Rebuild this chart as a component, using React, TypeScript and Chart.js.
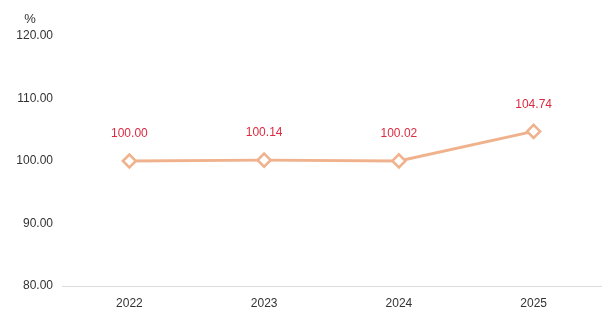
import React, { useEffect, useRef } from "react";
import { Chart, registerables } from "chart.js";

Chart.register(...registerables);

const categories = ["2022", "2023", "2024", "2025"];
const values = [100.0, 100.14, 100.02, 104.74];
const yMin = 80;
const yMax = 120;
const yStep = 10;
const unitLabel = "%";

const labelPlugin = {
  id: "valueLabels",
  afterDatasetsDraw(chart: any) {
    const ctx = chart.ctx;
    const meta = chart.getDatasetMeta(0);
    ctx.save();
    ctx.font = "12px 'Liberation Sans', Arial, sans-serif";
    ctx.fillStyle = "#dc2a40";
    ctx.textAlign = "center";
    ctx.textBaseline = "middle";
    meta.data.forEach((pt: any, i: number) => {
      ctx.fillText(values[i].toFixed(2), pt.x, pt.y - 27);
    });
    ctx.restore();
  },
};

const unitPlugin = {
  id: "unitLabel",
  afterDraw(chart: any) {
    const ctx = chart.ctx;
    ctx.save();
    ctx.font = "13px 'Liberation Sans', Arial, sans-serif";
    ctx.fillStyle = "#333";
    ctx.textAlign = "center";
    ctx.textBaseline = "middle";
    ctx.fillText(unitLabel, 30, 19);
    ctx.restore();
  },
};

export default function App() {
  const ref = useRef<HTMLCanvasElement>(null);
  useEffect(() => {
    if (!ref.current) return;
    const chart = new Chart(ref.current, {
      type: "line",
      data: {
        labels: categories,
        datasets: [
          {
            data: values,
            borderColor: "#f0b28c",
            borderWidth: 3,
            pointStyle: "rectRot",
            pointRadius: 6.5,
            pointBorderWidth: 2.5,
            pointBackgroundColor: "#ffffff",
            pointBorderColor: "#f0b28c",
            tension: 0,
          },
        ],
      },
      options: {
        animation: false,
        responsive: false,
        maintainAspectRatio: false,
        layout: { padding: { top: 36, right: 14, left: 0, bottom: 0 } },
        plugins: {
          legend: { display: false },
          tooltip: { enabled: false },
        },
        scales: {
          x: {
            offset: true,
            grid: { display: false, drawTicks: false },
            border: { display: true, color: "#dddddd", width: 1 },
            ticks: {
              color: "#333",
              padding: 10,
              font: { size: 12, family: "'Liberation Sans', Arial, sans-serif" },
            },
            afterFit(scale: any) {
              scale.height = 36;
            },
          },
          y: {
            min: yMin,
            max: yMax,
            grid: { display: false, drawTicks: false },
            border: { display: false },
            ticks: {
              stepSize: yStep,
              color: "#333",
              padding: 9,
              font: { size: 12, family: "'Liberation Sans', Arial, sans-serif" },
              callback: (v: any) => Number(v).toFixed(2),
            },
            afterFit(scale: any) {
              scale.width = 62;
            },
          },
        },
      },
      plugins: [labelPlugin, unitPlugin],
    });
    return () => chart.destroy();
  }, []);
  return (
    <div style={{ position: "fixed", left: 0, top: 0, width: 615, height: 322, background: "#fff" }}>
      <canvas ref={ref} width={615} height={322} />
    </div>
  );
}
